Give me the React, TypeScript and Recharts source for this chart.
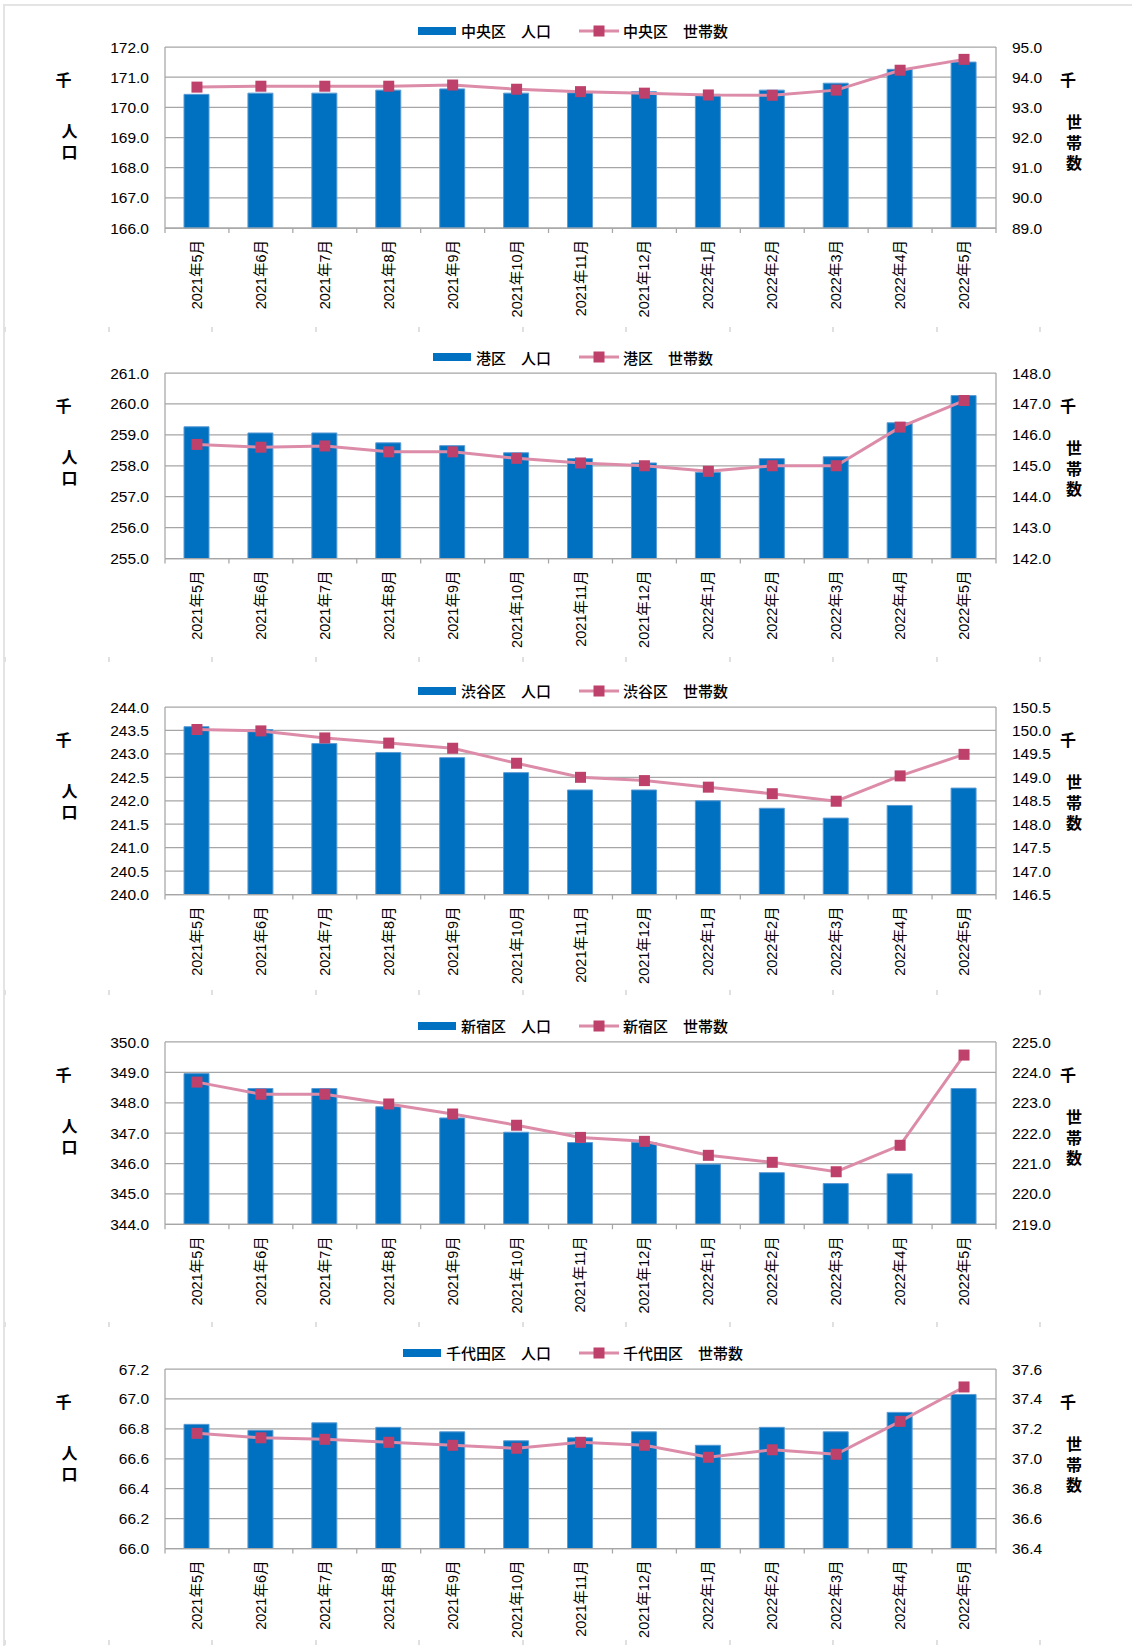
import { ComposedChart, Bar, Line, XAxis, YAxis, CartesianGrid, Legend } from 'recharts';

const MONTHS = [
  '2021年5月', '2021年6月', '2021年7月', '2021年8月', '2021年9月', '2021年10月',
  '2021年11月', '2021年12月', '2022年1月', '2022年2月', '2022年3月', '2022年4月', '2022年5月',
];

// 人口・世帯数（千）
const CHUO_POP = [170.43, 170.47, 170.47, 170.57, 170.61, 170.47, 170.48, 170.52, 170.43, 170.57, 170.8, 171.26, 171.5];
const CHUO_HH = [93.67, 93.7, 93.7, 93.7, 93.74, 93.6, 93.52, 93.47, 93.41, 93.4, 93.57, 94.23, 94.59];
const CHUO_POP_TICKS = [166, 167, 168, 169, 170, 171, 172];
const CHUO_HH_TICKS = [89, 90, 91, 92, 93, 94, 95];

const MINATO_POP = [259.26, 259.06, 259.06, 258.74, 258.65, 258.42, 258.23, 258.09, 257.79, 258.23, 258.29, 259.39, 260.27];
const MINATO_HH = [145.69, 145.6, 145.64, 145.45, 145.45, 145.24, 145.09, 145.0, 144.82, 145.0, 145.0, 146.25, 147.11];
const MINATO_POP_TICKS = [255, 256, 257, 258, 259, 260, 261];
const MINATO_HH_TICKS = [142, 143, 144, 145, 146, 147, 148];

const SHIBUYA_POP = [243.58, 243.52, 243.22, 243.03, 242.92, 242.6, 242.23, 242.23, 242.0, 241.84, 241.63, 241.9, 242.27];
const SHIBUYA_HH = [150.02, 149.99, 149.84, 149.73, 149.62, 149.3, 149.0, 148.93, 148.79, 148.65, 148.49, 149.03, 149.49];
const SHIBUYA_POP_TICKS = [240, 240.5, 241, 241.5, 242, 242.5, 243, 243.5, 244];
const SHIBUYA_HH_TICKS = [146.5, 147, 147.5, 148, 148.5, 149, 149.5, 150, 150.5];

const SHINJUKU_POP = [348.96, 348.47, 348.47, 347.87, 347.5, 347.03, 346.69, 346.69, 345.98, 345.7, 345.34, 345.66, 348.47];
const SHINJUKU_HH = [223.68, 223.28, 223.28, 222.96, 222.63, 222.26, 221.86, 221.73, 221.27, 221.04, 220.73, 221.6, 224.57];
const SHINJUKU_POP_TICKS = [344, 345, 346, 347, 348, 349, 350];
const SHINJUKU_HH_TICKS = [219, 220, 221, 222, 223, 224, 225];

const CHIYODA_POP = [66.83, 66.79, 66.84, 66.81, 66.78, 66.72, 66.74, 66.78, 66.69, 66.81, 66.78, 66.91, 67.03];
const CHIYODA_HH = [37.17, 37.14, 37.13, 37.11, 37.09, 37.07, 37.11, 37.09, 37.01, 37.06, 37.03, 37.25, 37.48];
const CHIYODA_POP_TICKS = [66.0, 66.2, 66.4, 66.6, 66.8, 67.0, 67.2];
const CHIYODA_HH_TICKS = [36.4, 36.6, 36.8, 37.0, 37.2, 37.4, 37.6];

const WARDS = [
  { ward: '中央区', pop: CHUO_POP, hh: CHUO_HH, popTicks: CHUO_POP_TICKS, hhTicks: CHUO_HH_TICKS },
  { ward: '港区', pop: MINATO_POP, hh: MINATO_HH, popTicks: MINATO_POP_TICKS, hhTicks: MINATO_HH_TICKS },
  { ward: '渋谷区', pop: SHIBUYA_POP, hh: SHIBUYA_HH, popTicks: SHIBUYA_POP_TICKS, hhTicks: SHIBUYA_HH_TICKS },
  { ward: '新宿区', pop: SHINJUKU_POP, hh: SHINJUKU_HH, popTicks: SHINJUKU_POP_TICKS, hhTicks: SHINJUKU_HH_TICKS },
  { ward: '千代田区', pop: CHIYODA_POP, hh: CHIYODA_HH, popTicks: CHIYODA_POP_TICKS, hhTicks: CHIYODA_HH_TICKS },
];

// plot area top / bottom of each panel, in page pixels
const PANEL_LAYOUT = [
  { plotTop: 46.5, plotBottom: 227.5 },
  { plotTop: 373, plotBottom: 558.5 },
  { plotTop: 706.5, plotBottom: 894 },
  { plotTop: 1041.7, plotBottom: 1224 },
  { plotTop: 1368.5, plotBottom: 1548 },
];
const SEPARATOR_ROWS = [330, 660, 993, 1325, 1643];

const PAGE_W = 1132;
const PAGE_H = 1646;
const LEFT_W = 165;
const RIGHT_W = 136;
const PLOT_W = PAGE_W - LEFT_W - RIGHT_W;
const LEGEND_H = 28;
const XAXIS_H = 90;

const BAR_FILL = '#0070C0';
const BAR_EDGE = '#5B9BD5';
const LINE_COLOUR = '#DC8CA8';
const MARKER_COLOUR = '#BE416C';
const GRID = '#A6A6A6';
const NUM_FONT = '"Liberation Sans", Arial, "Noto Sans CJK JP", sans-serif';
const CJK_FONT = '"Noto Sans CJK JP", sans-serif';

function SquareDot(props: any) {
  const { cx, cy, index } = props;
  if (cx == null || cy == null) return <g key={index} />;
  return <rect key={index} x={cx - 5.5} y={cy - 5.5} width={11} height={11} fill={MARKER_COLOUR} />;
}

function MonthTick(props: any) {
  const { x, y, payload, index } = props;
  const half = PLOT_W / MONTHS.length / 2;
  return (
    <g transform={`translate(${x},${y})`}>
      <line x1={-half} y1={0} x2={-half} y2={5} stroke={GRID} strokeWidth={1.25} />
      {index === MONTHS.length - 1 && (
        <line x1={half} y1={0} x2={half} y2={5} stroke={GRID} strokeWidth={1.25} />
      )}
      <text
        x={0}
        y={0}
        transform="rotate(-90) translate(-12,0)"
        textAnchor="end"
        dominantBaseline="central"
        fontSize={14.5}
        fontFamily={NUM_FONT}
        fill="#000"
      >
        {payload.value}
      </text>
    </g>
  );
}

function WardLegend({ ward }: { ward: string }) {
  return (
    <div
      style={{
        height: LEGEND_H,
        boxSizing: 'border-box',
        paddingBottom: 4,
        display: 'flex',
        alignItems: 'center',
        justifyContent: 'center',
        paddingLeft: 14,
        fontFamily: CJK_FONT,
        fontSize: 15,
        fontWeight: 500,
        color: '#000',
        whiteSpace: 'nowrap',
      }}
    >
      <span style={{ display: 'inline-block', width: 38, height: 8, background: BAR_FILL, marginRight: 5 }} />
      <span>{ward}　人口</span>
      <svg width={40} height={12} style={{ marginLeft: 28, marginRight: 4 }}>
        <line x1={0} y1={6} x2={40} y2={6} stroke={LINE_COLOUR} strokeWidth={3} />
        <rect x={14.5} y={0.5} width={11} height={11} fill={MARKER_COLOUR} />
      </svg>
      <span>{ward}　世帯数</span>
    </div>
  );
}

// vertical (tategaki) axis caption; firstCenter = centre of the first character below the plot top
function VerticalLabel({ text, x, firstCenter, pitch, top }: { text: string; x: number; firstCenter: number; pitch: number; top: number }) {
  const size = 16;
  return (
    <div
      style={{
        position: 'absolute',
        left: x - 10,
        top: top + firstCenter - size / 2,
        width: 20,
        writingMode: 'vertical-rl',
        lineHeight: '20px',
        letterSpacing: pitch - size,
        fontFamily: CJK_FONT,
        fontWeight: 700,
        fontSize: size,
        color: '#000',
        whiteSpace: 'nowrap',
      }}
    >
      {text}
    </div>
  );
}

type WardProps = {
  ward: string;
  pop: number[];
  hh: number[];
  popTicks: number[];
  hhTicks: number[];
  plotTop: number;
  plotBottom: number;
};

function WardChart({ ward, pop, hh, popTicks, hhTicks, plotTop, plotBottom }: WardProps) {
  const data = MONTHS.map((month, i) => ({ month, pop: pop[i], hh: hh[i] }));
  const plotH = plotBottom - plotTop;
  const height = LEGEND_H + plotH + XAXIS_H;
  const tickStyle = { fontSize: 15.5, fontFamily: NUM_FONT, fill: '#000' };
  return (
    <>
      <div style={{ position: 'absolute', left: 0, top: plotTop - LEGEND_H, width: PAGE_W, height }}>
        <ComposedChart width={PAGE_W} height={height} data={data} margin={{ top: 0, right: 0, bottom: 0, left: 0 }}>
          <Legend verticalAlign="top" align="center" content={() => <WardLegend ward={ward} />} />
          <CartesianGrid yAxisId="pop" vertical={false} stroke={GRID} strokeWidth={1.25} />
          <XAxis
            dataKey="month"
            height={XAXIS_H}
            interval={0}
            tickLine={false}
            tickSize={0}
            tickMargin={0}
            axisLine={{ stroke: GRID, strokeWidth: 1.25 }}
            tick={<MonthTick />}
          />
          <YAxis
            yAxisId="pop"
            width={LEFT_W}
            domain={[popTicks[0], popTicks[popTicks.length - 1]]}
            ticks={popTicks}
            interval={0}
            tickFormatter={(v: number) => v.toFixed(1)}
            tickLine={false}
            tickSize={6}
            tickMargin={10}
            axisLine={{ stroke: GRID, strokeWidth: 1.25 }}
            tick={tickStyle}
          />
          <YAxis
            yAxisId="hh"
            orientation="right"
            width={RIGHT_W}
            domain={[hhTicks[0], hhTicks[hhTicks.length - 1]]}
            ticks={hhTicks}
            interval={0}
            tickFormatter={(v: number) => v.toFixed(1)}
            tickLine={false}
            tickSize={6}
            tickMargin={10}
            axisLine={{ stroke: GRID, strokeWidth: 1.25 }}
            tick={{ ...tickStyle, textAnchor: 'start' }}
          />
          <Bar
            yAxisId="pop"
            dataKey="pop"
            name={`${ward}　人口`}
            barSize={25}
            fill={BAR_FILL}
            stroke={BAR_EDGE}
            strokeWidth={1}
            isAnimationActive={false}
          />
          <Line
            yAxisId="hh"
            dataKey="hh"
            name={`${ward}　世帯数`}
            type="linear"
            stroke={LINE_COLOUR}
            strokeWidth={3}
            dot={SquareDot}
            activeDot={false}
            isAnimationActive={false}
          />
        </ComposedChart>
      </div>
      <VerticalLabel text="千" x={63.5} firstCenter={33} pitch={21} top={plotTop} />
      <VerticalLabel text="人口" x={69.5} firstCenter={84} pitch={21} top={plotTop} />
      <VerticalLabel text="千" x={1068} firstCenter={33} pitch={21} top={plotTop} />
      <VerticalLabel text="世帯数" x={1074} firstCenter={75} pitch={20.5} top={plotTop} />
    </>
  );
}

export default function App() {
  const dashXs = Array.from({ length: 11 }, (_, k) => 5 + 103.5 * k);
  return (
    <div
      style={{
        position: 'absolute',
        left: 0,
        top: 0,
        width: PAGE_W,
        height: PAGE_H,
        background: '#fff',
        overflow: 'hidden',
      }}
    >
      <div style={{ position: 'absolute', left: 3, top: 4, width: PAGE_W, height: 2, background: '#E4E4E4' }} />
      <div style={{ position: 'absolute', left: 3, top: 4, width: 2, height: PAGE_H, background: '#E4E4E4' }} />
      {SEPARATOR_ROWS.map((y) =>
        dashXs.map((x) => (
          <div
            key={`${y}-${x}`}
            style={{ position: 'absolute', left: x - 1, top: y - 3, width: 2, height: 5, background: '#E0E0E0' }}
          />
        ))
      )}
      {WARDS.map((w, i) => (
        <WardChart key={w.ward} {...w} {...PANEL_LAYOUT[i]} />
      ))}
    </div>
  );
}
